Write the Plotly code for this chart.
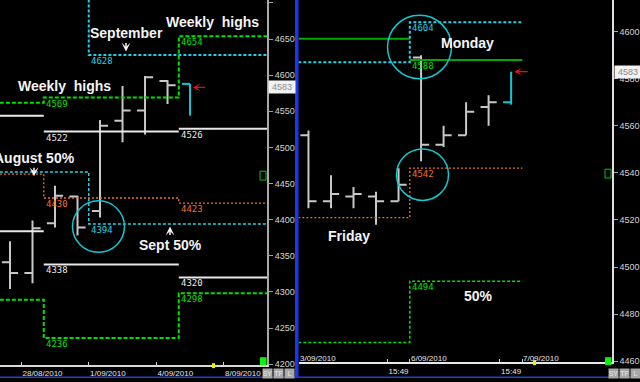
import plotly.graph_objects as go

# ---------------- data ----------------
# Left panel: daily bars
daily_idx = [0, 1, 2, 3, 4, 5, 6, 7, 8]
daily_open = [4341, 4326, 4395, 4432, 4412, 4537, 4551, 4592, 4588]
daily_high = [4370, 4399, 4447, 4433, 4538, 4585, 4599, 4593, 4588]
daily_low = [4304, 4312, 4389, 4378, 4403, 4507, 4518, 4560, 4544]
daily_close = [4326, 4388, 4433, 4389, 4530, 4551, 4597, 4586, 4583]
daily_tickvals = [0.5, 3.5, 6.5, 9.5]
daily_ticktext = ["28/08/2010", "1/09/2010", "4/09/2010", "8/09/2010"]
daily_yticks = [4200, 4250, 4300, 4350, 4400, 4450, 4500, 4550, 4600, 4650, 4700]

week_edges = [-0.45, 1.5, 7.5, 11.45]
week_upper_white = [4544, 4522, 4526]
week_lower_white = [4384, 4338, 4320]
week_high_green = [4562, 4569, 4654]
week_low_green = [4289, 4236, 4298]
week_mid_orange = [4463, 4430, 4423]
month_edges = [-0.45, 3.5, 11.45]
month_high_cyan = [4720, 4628]
month_mid_cyan = [4466, 4394]

# Right panel: intraday bars
intra_idx = [0, 1, 2, 3, 4, 5, 6, 7, 8, 9]
intra_open = [4556, 4528, 4530, 4530, 4528, 4589, 4552, 4556, 4568, 4570]
intra_high = [4558, 4539, 4534, 4532, 4542, 4590, 4560, 4570, 4573, 4583]
intra_low = [4525, 4525, 4525, 4518, 4528, 4545, 4551, 4556, 4560, 4569]
intra_close = [4528, 4531, 4531, 4528, 4535, 4552, 4556, 4566, 4570, 4583]
intra_tickvals = [3.5, 4.5, 8.5, 9.5]
intra_ticktext = ["15:49", "", "15:49", ""]
intra_date_pos = [-0.44, 4.5, 9.5]
intra_date_text = ["3/09/2010", "6/09/2010", "7/09/2010"]
intra_yticks = [4460, 4480, 4500, 4520, 4540, 4560, 4580, 4600]

day_edges = [-0.45, 4.5, 9.5]
day_high_green = [4597, 4588]
day_high_cyan = [4587, 4604]
day_mid_orange = [4521, 4542]
day_low_green = [4468, 4494]
last_price = 4583

# ---------------- helpers ----------------
W, H = 640, 382
def px(x):
    return x / W
def py(y):
    return 1 - y / H

def step_xy(edges, vals):
    xs, ys = [], []
    for i, v in enumerate(vals):
        xs += [edges[i], edges[i + 1]]
        ys += [v, v]
    return xs, ys

def seg_xy(edges, vals):
    xs, ys = [], []
    for i, v in enumerate(vals):
        xs += [edges[i], edges[i + 1], None]
        ys += [v, v, None]
    return xs, ys

fig = go.Figure()
annos = []
LBL_FONT = "DejaVu Sans Mono"

def add_level(edges, vals, color, width, dash, ax, connect, first_label, lblcolor):
    xs, ys = (step_xy if connect else seg_xy)(edges, vals)
    fig.add_trace(go.Scatter(x=xs, y=ys, mode="lines", xaxis=ax[0], yaxis=ax[1],
                             line=dict(color=color, width=width, dash=dash),
                             hoverinfo="skip", showlegend=False))
    for i in range(first_label, len(vals)):
        annos.append(dict(x=edges[i], y=vals[i], xref=ax[0], yref=ax[1],
                          text=str(vals[i]), showarrow=False, xanchor="left",
                          yanchor="top", xshift=0, yshift=1,
                          font=dict(family=LBL_FONT, size=9, color=lblcolor)))

GREEN = "#00e000"
CYAN = "#22d2e2"
ORANGE = "#f07028"
WHITE = "#e8e8e8"
L = ("x", "y")
R = ("x2", "y2")

# left levels
add_level(month_edges, month_high_cyan, CYAN, 2, "3px,2px", L, True, 1, CYAN)
add_level(month_edges, month_mid_cyan, CYAN, 1.5, "3px,2px", L, True, 99, CYAN)
annos.append(dict(x=month_edges[1], y=month_mid_cyan[1], xref="x", yref="y", text=str(month_mid_cyan[1]),
                  showarrow=False, xanchor="left", yanchor="top", yshift=1,
                  font=dict(family=LBL_FONT, size=9, color=CYAN)))
add_level(week_edges, week_mid_orange, ORANGE, 1.3, "2px,2px", L, True, 1, ORANGE)
add_level(week_edges, week_high_green, GREEN, 2, "4px,2px", L, True, 1, GREEN)
add_level(week_edges, week_low_green, GREEN, 2, "4px,2px", L, True, 1, GREEN)
add_level(week_edges, week_upper_white, WHITE, 2, "solid", L, False, 1, WHITE)
add_level(week_edges, week_lower_white, WHITE, 2, "solid", L, False, 1, WHITE)

# right levels
add_level(day_edges, day_high_green, "#00a800", 2, "solid", R, False, 0, GREEN)
add_level(day_edges, day_high_cyan, CYAN, 2, "3px,2px", R, True, 0, CYAN)
add_level(day_edges, day_mid_orange, ORANGE, 1.3, "2px,2px", R, True, 0, ORANGE)
add_level(day_edges, day_low_green, GREEN, 1.5, "3px,2px", R, True, 0, GREEN)

# bars
BAR = "#c8c8c8"
fig.add_trace(go.Ohlc(x=daily_idx[:-1], open=daily_open[:-1], high=daily_high[:-1],
                      low=daily_low[:-1], close=daily_close[:-1], xaxis="x", yaxis="y",
                      increasing=dict(line=dict(color=BAR, width=2)),
                      decreasing=dict(line=dict(color=BAR, width=2)),
                      tickwidth=0.36, hoverinfo="skip", showlegend=False))
fig.add_trace(go.Ohlc(x=intra_idx[:-1], open=intra_open[:-1], high=intra_high[:-1],
                      low=intra_low[:-1], close=intra_close[:-1], xaxis="x2", yaxis="y2",
                      increasing=dict(line=dict(color=BAR, width=2)),
                      decreasing=dict(line=dict(color=BAR, width=2)),
                      tickwidth=0.36, hoverinfo="skip", showlegend=False))

# current (last) bars in cyan: range + open tick only
def last_bar(idx, o, h, l, ax):
    i = idx[-1]
    fig.add_trace(go.Scatter(x=[i - 0.36, i, None, i, i], y=[o[-1], o[-1], None, l[-1], h[-1]],
                             mode="lines", xaxis=ax[0], yaxis=ax[1],
                             line=dict(color="#10c8d8", width=2),
                             hoverinfo="skip", showlegend=False))
last_bar(daily_idx, daily_open, daily_high, daily_low, L)
last_bar(intra_idx, intra_open, intra_high, intra_low, R)

# red arrows at last price
annos.append(dict(x=daily_idx[-1] + 0.12, y=last_price, xref="x", yref="y", text="", showarrow=True,
                  ax=14, ay=0, arrowhead=3, arrowsize=1, arrowwidth=1.3, arrowcolor="#e01010"))
annos.append(dict(x=intra_idx[-1] + 0.14, y=last_price, xref="x2", yref="y2", text="", showarrow=True,
                  ax=15, ay=0, arrowhead=3, arrowsize=1, arrowwidth=1.3, arrowcolor="#e01010"))

# last price boxes on axes
for xr, yr in ((267, "y"), (613, "y2")):
    annos.append(dict(x=px(xr + 1), y=last_price, xref="paper", yref=yr, text="4583",
                      showarrow=False, xanchor="left", yanchor="middle",
                      bgcolor="#f2f2f2", borderpad=1, width=24,
                      font=dict(family="Liberation Sans", size=9, color="#8c8c8c")))

# right panel date labels
for pos, txt in zip(intra_date_pos, intra_date_text):
    annos.append(dict(x=pos, y=py(362), xref="x2", yref="paper", text=txt, showarrow=False,
                      xanchor="left", yanchor="middle", xshift=-1,
                      font=dict(family="Liberation Sans", size=8, color="#e6e6e6")))

# callout text
def label(text, x, y, size=14):
    annos.append(dict(x=px(x), y=py(y), xref="paper", yref="paper", text="<b>%s</b>" % text,
                      showarrow=False, xanchor="center", yanchor="middle",
                      font=dict(family="Liberation Sans", size=size, color="#f4f4f4")))
label("September", 126, 33)
label("Weekly&nbsp;&nbsp;highs", 212, 22)
label("Weekly&nbsp;&nbsp;highs", 64, 87)
label("August 50%", 34, 160)
label("Sept 50%", 170, 248)
label("Monday", 467, 43)
label("Friday", 349, 239)
label("50%", 478, 299)

def arrow(x, y_tip, dy):
    annos.append(dict(x=px(x), y=py(y_tip), xref="paper", yref="paper", text="", showarrow=True,
                      ax=0, ay=dy, arrowhead=3, arrowsize=1, arrowwidth=1.5, arrowcolor="#f4f4f4"))
arrow(126, 52, -10)
arrow(34, 178, -10)
arrow(170, 229, 10)

# bottom buttons
for base in (262, 608):
    for k, t in enumerate(["SY", "TF", "L"]):
        annos.append(dict(x=px(base + k * 11 + 5), y=py(377), xref="paper", yref="paper", text=t,
                          showarrow=False, xanchor="center", yanchor="middle", width=9, height=9,
                          bgcolor="#a8a8a8", borderpad=0,
                          font=dict(family="Liberation Sans", size=7, color="#e8e8e8")))

shapes = []
# circles
for cx, cy, r in ((98.5, 229, 26), (419.5, 47.5, 32), (422.5, 176.5, 26)):
    shapes.append(dict(type="circle", xref="paper", yref="paper", x0=px(cx - r), x1=px(cx + r),
                       y0=py(cy + r), y1=py(cy - r), line=dict(color="#10c8d0", width=1.5)))
# blue separator and bottom strip
shapes.append(dict(type="rect", xref="paper", yref="paper", x0=px(295), x1=px(298.5), y0=0, y1=1,
                   fillcolor="#1838f0", line=dict(width=0)))
shapes.append(dict(type="rect", xref="paper", yref="paper", x0=0, x1=1, y0=0, y1=py(380.5),
                   fillcolor="#2040d0", line=dict(width=0), layer="below"))
# green status squares
for x0 in (260, 605):
    shapes.append(dict(type="rect", xref="paper", yref="paper", x0=px(x0), x1=px(x0 + 6.5),
                       y0=py(369), y1=py(361), fillcolor="#10f010", line=dict(width=0)))
# yellow markers on time axes
for x0, yb in ((212, 369), (533, 366)):
    shapes.append(dict(type="rect", xref="paper", yref="paper", x0=px(x0), x1=px(x0 + 3),
                       y0=py(yb + 3), y1=py(yb - 2), fillcolor="#f0f000", line=dict(width=0)))
# small green boxed markers
for x0, y0 in ((260, 173), (605, 171)):
    shapes.append(dict(type="rect", xref="paper", yref="paper", x0=px(x0), x1=px(x0 + 6),
                       y0=py(y0 + 9), y1=py(y0), fillcolor="#000000",
                       line=dict(color="#10c010", width=1)))

AXF = dict(family="Liberation Sans", size=9, color="#d4d4d4")
XF = dict(family="Liberation Sans", size=8, color="#e6e6e6")
fig.update_layout(
    width=W, height=H, margin=dict(l=0, r=0, t=0, b=0),
    paper_bgcolor="#000000", plot_bgcolor="#000000", showlegend=False,
    xaxis=dict(domain=[0, px(267)], range=[-0.444, 11.42], showgrid=False, zeroline=False,
               tickvals=daily_tickvals, ticktext=daily_ticktext, ticklabelposition="outside right",
               ticks="inside", ticklen=3, tickcolor="#d0d0d0", tickfont=XF,
               showline=True, linecolor="#d8d8d8", linewidth=1.5, anchor="y",
               rangeslider=dict(visible=False)),
    yaxis=dict(domain=[13 / H, 1], range=[4198.6, 4704.1], side="right", anchor="x",
               tickvals=daily_yticks, ticks="outside", ticklen=4, tickcolor="#a0a0a0",
               tickfont=AXF, showgrid=False, zeroline=False, showline=True,
               linecolor="#a8a8a8", linewidth=2),
    xaxis2=dict(domain=[px(298.5), px(612)], range=[-0.443, 13.48], showgrid=False, zeroline=False,
                tickvals=intra_tickvals, ticktext=intra_ticktext, ticklabelposition="outside right",
                ticks="inside", ticklen=3, tickcolor="#d0d0d0", tickfont=XF,
                showline=True, linecolor="#e8e8e8", linewidth=1.5, anchor="y2",
                rangeslider=dict(visible=False)),
    yaxis2=dict(domain=[16 / H, 1], range=[4459.6, 4613.45], side="right", anchor="x2",
                tickvals=intra_yticks, ticks="outside", ticklen=4, tickcolor="#a0a0a0",
                tickfont=AXF, showgrid=False, zeroline=False, showline=True,
                linecolor="#e0e0e0", linewidth=1.5),
    annotations=annos, shapes=shapes,
)

fig.write_html("out.html", config={"displayModeBar": False},
               post_script="document.body.style.margin='0';document.body.style.overflow='hidden';")
